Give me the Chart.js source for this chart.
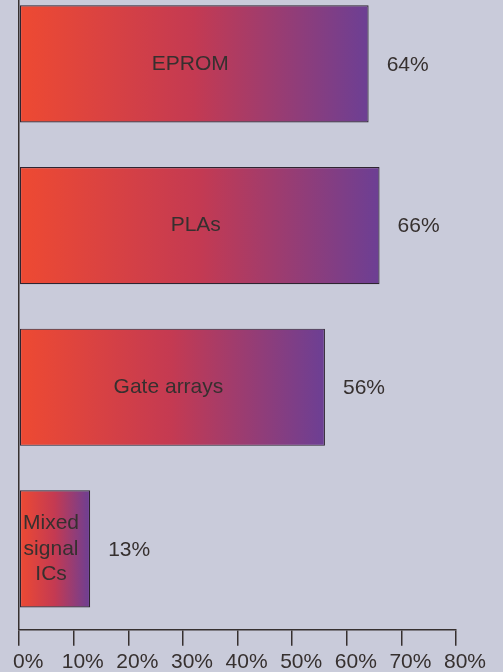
<!DOCTYPE html>
<html>
<head>
<meta charset="utf-8">
<script src="https://cdn.jsdelivr.net/npm/chart.js@4.4.1/dist/chart.umd.min.js"></script>
<style>
  html, body { margin: 0; padding: 0; background: #c9cbda; overflow: hidden; }
  #wrap { position: absolute; left: 0; top: -17px; width: 503px; height: 696px; }
</style>
</head>
<body>
<div id="wrap"><canvas id="chart"></canvas></div>
<script>
const categories = [['EPROM'], ['PLAs'], ['Gate arrays'], ['Mixed', 'signal', 'ICs']];
const shares = [64, 66, 56, 13];
const tickValues = [0, 10, 20, 30, 40, 50, 60, 70, 80];

const ink = '#36302f';
const font = "'Liberation Sans', Arial, sans-serif";

function barGradient(context) {
  const chart = context.chart;
  const x = chart.scales.x;
  if (!x || !chart.chartArea || context.dataIndex === undefined) return '#c23a55';
  const x0 = x.getPixelForValue(0);
  const x1 = x.getPixelForValue(shares[context.dataIndex]);
  if (!isFinite(x0) || !isFinite(x1) || x1 <= x0) return '#c23a55';
  const g = chart.ctx.createLinearGradient(x0, 0, x1, 0);
  g.addColorStop(0, '#ee4a32');
  g.addColorStop(0.5, '#c43a52');
  g.addColorStop(1, '#6c3f94');
  return g;
}

const labelPlugin = {
  id: 'barLabels',
  afterDatasetsDraw(chart) {
    const ctx = chart.ctx;
    const meta = chart.getDatasetMeta(0);
    ctx.save();
    ctx.fillStyle = ink;
    ctx.font = '21px ' + font;
    ctx.textBaseline = 'middle';
    meta.data.forEach((bar, i) => {
      const lines = categories[i];
      const cx = (bar.base + bar.x) / 2 - 4;
      const lh = 25.5;
      ctx.textAlign = 'center';
      lines.forEach((line, k) => {
        ctx.fillText(line, cx, bar.y + (k - (lines.length - 1) / 2) * lh);
      });
      ctx.textAlign = 'left';
      ctx.fillText(shares[i] + '%', bar.x + 18, bar.y + 1);
    });
    ctx.restore();
  }
};

new Chart(document.getElementById('chart'), {
  type: 'bar',
  data: {
    labels: categories.map(c => c.join(' ')),
    datasets: [{
      data: shares,
      backgroundColor: barGradient,
      borderColor: '#2e2430',
      borderWidth: 1.2,
      borderSkipped: false,
      categoryPercentage: 0.725,
      barPercentage: 1
    }]
  },
  options: {
    indexAxis: 'y',
    responsive: true,
    maintainAspectRatio: false,
    animation: false,
    layout: { padding: { left: 15, right: 47, top: 0, bottom: 0 } },
    plugins: { legend: { display: false }, tooltip: { enabled: false } },
    scales: {
      y: { display: false },
      x: {
        min: 0,
        max: 80,
        afterBuildTicks(axis) { axis.ticks = tickValues.map(v => ({ value: v })); },
        border: { display: true, color: ink, width: 1.5 },
        grid: {
          color: c => c.index === 0 ? ink : 'transparent',
          lineWidth: 1.5,
          tickColor: ink,
          tickLength: 16,
          drawOnChartArea: true
        },
        ticks: {
          color: ink,
          font: { family: font, size: 21 },
          padding: 4,
          labelOffset: 9,
          maxRotation: 0,
          autoSkip: false,
          callback: v => v + '%'
        }
      }
    }
  },
  plugins: [labelPlugin]
});
</script>
</body>
</html>
